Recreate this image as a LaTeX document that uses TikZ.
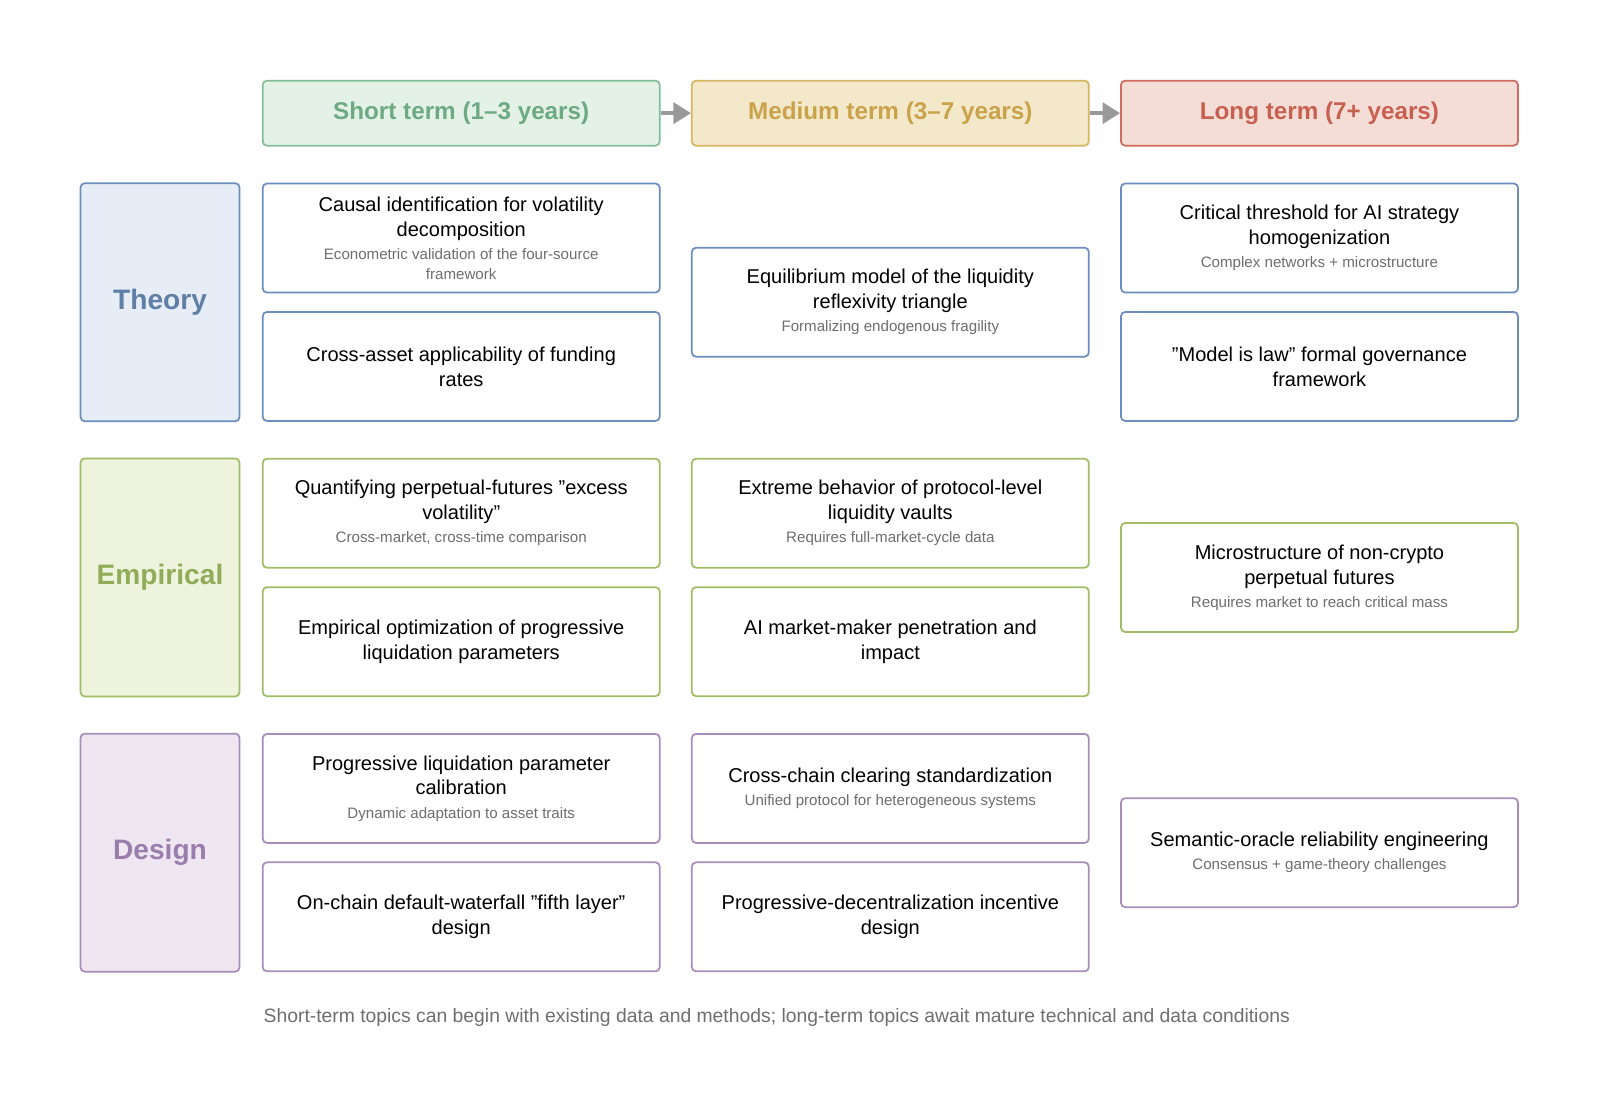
\documentclass[tikz,border=0pt]{standalone}
\usepackage{fontspec}
\setmainfont{Liberation Sans}
\usetikzlibrary{arrows.meta}

\definecolor{stfill}{HTML}{E3F1E7}\definecolor{stline}{HTML}{86BC98}\definecolor{sttext}{HTML}{6DAA82}
\definecolor{mtfill}{HTML}{F3E8CA}\definecolor{mtline}{HTML}{D6B661}\definecolor{mttext}{HTML}{C9A24A}
\definecolor{ltfill}{HTML}{F5DDD7}\definecolor{ltline}{HTML}{D26C5E}\definecolor{lttext}{HTML}{C8604F}
\definecolor{thfill}{HTML}{E6EDF6}\definecolor{thline}{HTML}{6C8EBF}\definecolor{thtext}{HTML}{5F7FA6}
\definecolor{emfill}{HTML}{EEF3DD}\definecolor{emline}{HTML}{A0BD66}\definecolor{emtext}{HTML}{90AC58}
\definecolor{defill}{HTML}{EEE7F2}\definecolor{deline}{HTML}{A88DBA}\definecolor{detext}{HTML}{9A7DAC}
\definecolor{subgray}{HTML}{6E6E6E}

\tikzset{
  box/.style={draw, rounded corners=1.2pt, line width=0.5pt, minimum width=3.97cm, minimum height=1.09cm, align=center, inner sep=0pt},
  head/.style={box, minimum height=0.65cm, font=\fontsize{6.9}{8}\selectfont\bfseries},
  row/.style={draw, rounded corners=1.2pt, line width=0.5pt, minimum width=1.59cm, minimum height=2.38cm, font=\fontsize{8}{9}\selectfont\bfseries},
  cell/.style={box, fill=white, font=\fontsize{5.7}{7.1}\selectfont},
  arrow/.style={-{Triangle[length=5pt,width=6pt]}, draw=gray!80, line width=1pt}
}
\newcommand{\subfont}{\fontsize{4.3}{5}\selectfont\color{subgray}}
\newcommand{\subline}{\\[-0.5pt]\subfont}
\newcommand{\q}{\char34}

\begin{document}
\begin{tikzpicture}[x=0.0102cm,y=-0.0102cm]
	\useasboundingbox (0,0) rectangle (16cm,-11.16cm);
	% headers
	\node[head, fill=stfill, draw=stline, text=sttext] (short) at (452.5,111) {Short term (1--3 years)};
	\node[head, fill=mtfill, draw=mtline, text=mttext] (medium) at (873.5,111) {Medium term (3--7 years)};
	\node[head, fill=ltfill, draw=ltline, text=lttext] (long) at (1294.5,111) {Long term (7+ years)};
	\draw[arrow] (short) -- (medium);
	\draw[arrow] (medium) -- (long);
	% rows
	\node[row, fill=thfill, draw=thline, text=thtext] (theory) at (157,296.5) {Theory};
	\node[row, fill=emfill, draw=emline, text=emtext] (empirical) at (157,566.5) {Empirical};
	\node[row, fill=defill, draw=deline, text=detext] (design) at (157,836.5) {Design};
	% theory
	\node[cell, draw=thline] (th1) at (452.5,233.5) {Causal identification for volatility\\decomposition\subline Econometric validation of the four-source\\[-1.5pt]\subfont framework};
	\node[cell, draw=thline] (th2) at (452.5,359.5) {Cross-asset applicability of funding\\rates};
	\node[cell, draw=thline] (th3) at (873.5,296.5) {Equilibrium model of the liquidity\\reflexivity triangle\subline Formalizing endogenous fragility};
	\node[cell, draw=thline] (th4) at (1294.5,233.5) {Critical threshold for AI strategy\\homogenization\subline Complex networks + microstructure};
	\node[cell, draw=thline] (th5) at (1294.5,359.5) {\q Model is law\q{} formal governance\\framework};
	% empirical
	\node[cell, draw=emline] (em1) at (452.5,503.5) {Quantifying perpetual-futures \q excess\\volatility\q\subline Cross-market, cross-time comparison};
	\node[cell, draw=emline] (em2) at (452.5,629.5) {Empirical optimization of progressive\\liquidation parameters};
	\node[cell, draw=emline] (em3) at (873.5,503.5) {Extreme behavior of protocol-level\\liquidity vaults\subline Requires full-market-cycle data};
	\node[cell, draw=emline] (em4) at (873.5,629.5) {AI market-maker penetration and\\impact};
	\node[cell, draw=emline] (em5) at (1294.5,566.5) {Microstructure of non-crypto\\perpetual futures\subline Requires market to reach critical mass};
	% design
	\node[cell, draw=deline] (de1) at (452.5,773.5) {Progressive liquidation parameter\\calibration\subline Dynamic adaptation to asset traits};
	\node[cell, draw=deline] (de2) at (452.5,899.5) {On-chain default-waterfall \q fifth layer\q\\design};
	\node[cell, draw=deline] (de3) at (873.5,773.5) {Cross-chain clearing standardization\subline Unified protocol for heterogeneous systems};
	\node[cell, draw=deline] (de4) at (873.5,899.5) {Progressive-decentralization incentive\\design};
	\node[cell, draw=deline] (de5) at (1294.5,836.5) {Semantic-oracle reliability engineering\subline Consensus + game-theory challenges};
	% footer
	\node[anchor=west, inner sep=0pt, text=subgray, font=\fontsize{5.5}{6}\selectfont] (note) at (258,998) {Short-term topics can begin with existing data and methods; long-term topics await mature technical and data conditions};
\end{tikzpicture}
\end{document}
